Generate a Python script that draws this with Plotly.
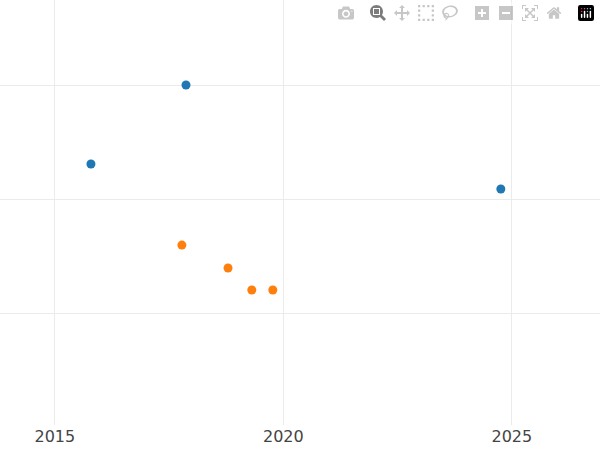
import plotly.graph_objects as go

blue_x = [2015.79, 2017.87, 2024.76]
blue_y = [2.307, 3.0, 2.088]
orange_x = [2017.78, 2018.79, 2019.31, 2019.77]
orange_y = [1.596, 1.395, 1.202, 1.202]

fig = go.Figure()
fig.add_trace(go.Scatter(x=blue_x, y=blue_y, mode="markers",
                         marker=dict(color="#1f77b4", size=9)))
fig.add_trace(go.Scatter(x=orange_x, y=orange_y, mode="markers",
                         marker=dict(color="#ff7f0e", size=9)))
fig.update_layout(
    width=600, height=450, showlegend=False,
    margin=dict(l=0, r=0, t=0, b=25, autoexpand=False),
    plot_bgcolor="white", paper_bgcolor="white",
    font=dict(family="DejaVu Sans", size=16, color="#444"),
)
fig.update_xaxes(range=[2013.8, 2026.93], tickvals=[2015, 2020, 2025],
                 showgrid=True, gridcolor="#ebebeb", zeroline=False, ticks="")
fig.update_yaxes(range=[0.018, 3.746], tickvals=[1, 2, 3], showticklabels=False,
                 showgrid=True, gridcolor="#ebebeb", zeroline=False)
fig.write_html("out.html", post_script="document.body.style.margin='0';document.body.style.overflow='hidden';")
